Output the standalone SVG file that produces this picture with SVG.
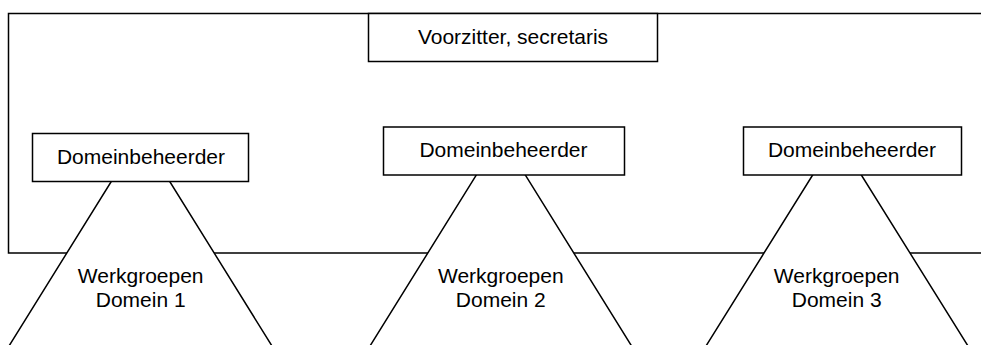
<svg xmlns="http://www.w3.org/2000/svg" width="981" height="345" viewBox="0 0 981 345">
<style>
  .ln { fill: none; stroke: #000; stroke-width: 1.5; }
  .box { fill: #fff; stroke: #000; stroke-width: 1.5; }
  .tri { fill: #fff; stroke: none; }
  .t { font-family: "Liberation Sans", Arial, sans-serif; font-size: 21px; fill: #000; text-anchor: middle; }
</style>
<rect x="0" y="0" width="981" height="345" fill="#fff"/>
<g id="frame">
  <path class="ln" d="M982,13.5 H8.5 V253 H982"/>
</g>
<g id="connectors"></g>
<g id="werkgroepen1">
  <polygon class="tri" points="140.5,134.5 9,346 272,346"/>
  <polyline class="ln" points="9,346 140.5,134.5 272,346"/>
  <text class="t" x="140.7" y="283">Werkgroepen</text>
  <text class="t" x="140.7" y="307">Domein 1</text>
</g>
<g id="werkgroepen2">
  <polygon class="tri" points="500.8,135.6 370,346 631.6,346"/>
  <polyline class="ln" points="370,346 500.8,135.6 631.6,346"/>
  <text class="t" x="500.8" y="283">Werkgroepen</text>
  <text class="t" x="500.8" y="307">Domein 2</text>
</g>
<g id="werkgroepen3">
  <polygon class="tri" points="837,136 706,346 968,346"/>
  <polyline class="ln" points="706,346 837,136 968,346"/>
  <text class="t" x="836.7" y="283">Werkgroepen</text>
  <text class="t" x="836.7" y="307">Domein 3</text>
</g>
<g id="voorzitter">
  <rect class="box" x="368.5" y="13.5" width="289" height="48"/>
  <text class="t" x="513" y="44">Voorzitter, secretaris</text>
</g>
<g id="domeinbeheerder1">
  <rect class="box" x="32.5" y="133.5" width="216" height="48"/>
  <text class="t" x="141" y="164">Domeinbeheerder</text>
</g>
<g id="domeinbeheerder2">
  <rect class="box" x="383.5" y="127" width="241" height="48"/>
  <text class="t" x="503.5" y="157">Domeinbeheerder</text>
</g>
<g id="domeinbeheerder3">
  <rect class="box" x="743.5" y="127" width="218" height="48"/>
  <text class="t" x="852" y="157">Domeinbeheerder</text>
</g>
</svg>
